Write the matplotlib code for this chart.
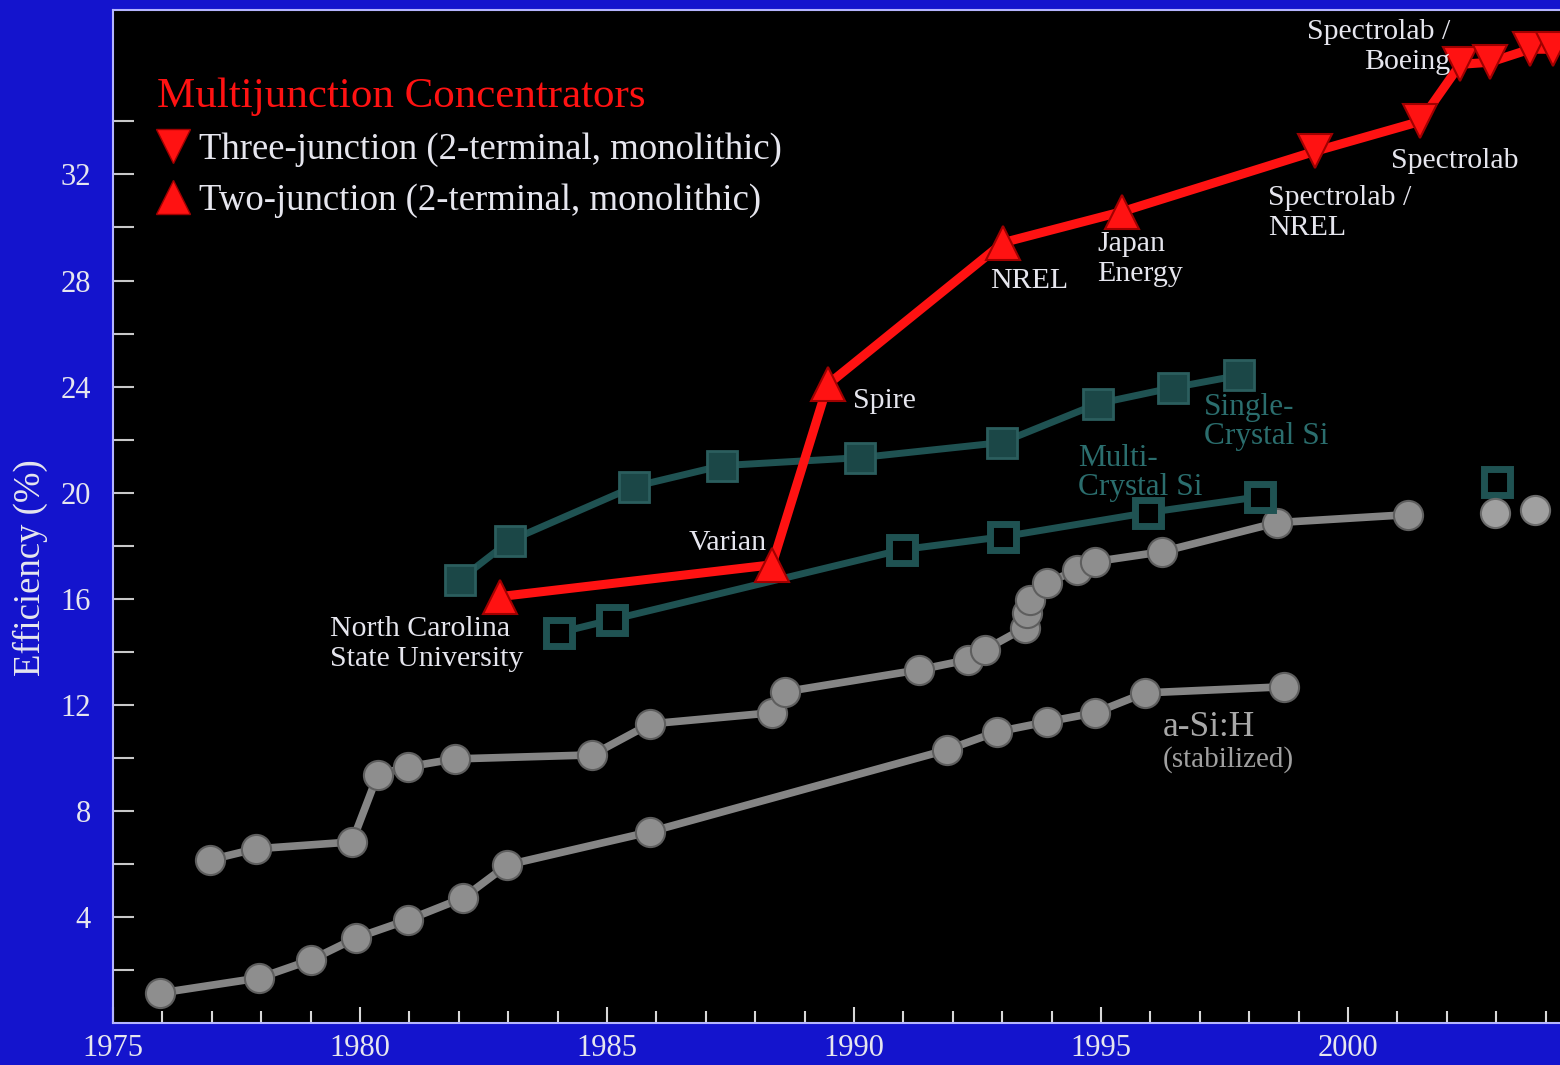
import matplotlib
matplotlib.use("Agg")
import matplotlib.pyplot as plt
from matplotlib.lines import Line2D
from matplotlib.ticker import MultipleLocator, FixedLocator

plt.rcParams['font.family'] = ['Liberation Serif', 'DejaVu Serif']

# Multijunction concentrators
two_junction_year = [1982.83, 1988.34, 1989.47, 1993.02, 1995.43]
two_junction_eff = [16.08, 17.28, 24.08, 29.43, 30.60]
three_junction_year = [1999.33, 2001.46, 2002.27, 2002.87, 2003.68, 2004.15]
three_junction_eff = [32.87, 34.00, 36.15, 36.23, 36.72, 36.72]

# Crystalline Si
single_si_year = [1982.02, 1983.04, 1985.55, 1987.33, 1990.12, 1992.99, 1994.94, 1996.46, 1997.79]
single_si_eff = [16.72, 18.19, 20.23, 21.02, 21.32, 21.89, 23.36, 23.96, 24.42]
multi_si_year = [1984.03, 1985.10, 1990.97, 1993.02, 1995.95, 1998.22]
multi_si_eff = [14.72, 15.21, 17.85, 18.34, 19.25, 19.85]
multi_si_extra_year = [2003.02]
multi_si_extra_eff = [20.42]

# Thin films (gray circles)
thin_year = [1976.96, 1977.89, 1979.84, 1980.36, 1980.97, 1981.92, 1984.70, 1985.87,
             1988.34, 1988.60, 1991.32, 1992.31, 1992.65, 1993.46, 1993.50, 1993.56,
             1993.91, 1994.51, 1994.88, 1996.23, 1998.56, 2001.21]
thin_eff = [6.15, 6.57, 6.83, 9.36, 9.66, 9.96, 10.11, 11.28,
            11.70, 12.49, 13.32, 13.70, 14.08, 14.91, 15.47, 15.96,
            16.60, 17.09, 17.40, 17.77, 18.87, 19.17]
thin_extra_year = [2002.98, 2003.79]
thin_extra_eff = [19.25, 19.36]
asi_year = [1975.95, 1977.96, 1979.01, 1979.92, 1980.97, 1982.09, 1982.98, 1985.87,
            1991.88, 1992.89, 1993.91, 1994.88, 1995.89, 1998.70]
asi_eff = [1.13, 1.70, 2.38, 3.21, 3.89, 4.72, 5.96, 7.21,
           10.30, 10.98, 11.36, 11.70, 12.45, 12.68]

x_ticks = [1975, 1980, 1985, 1990, 1995, 2000]
y_ticks = [4, 8, 12, 16, 20, 24, 28, 32]

blue_bg = '#1414cd'
red = '#ff1212'
teal = '#1f5252'
teal_text = '#2b6e6e'
gray = '#858585'
white = '#e6e6ee'

fig = plt.figure(figsize=(15.6, 10.65), dpi=100, facecolor=blue_bg)
ax = fig.add_axes([0.0724, 0.0394, 0.9276, 0.9512])
ax.set_facecolor('black')

# gray thin film lines
ax.plot(thin_year, thin_eff, color=gray, lw=5.5, marker='o', ms=21,
        mfc='#8e8e8e', mec='#5e5e5e', mew=1.5, zorder=2)
ax.plot(thin_extra_year, thin_extra_eff, linestyle='none', marker='o', ms=21,
        mfc='#a0a0a0', mec='#6a6a6a', mew=1.5, zorder=2)
ax.plot(asi_year, asi_eff, color=gray, lw=5.5, marker='o', ms=21,
        mfc='#8e8e8e', mec='#5e5e5e', mew=1.5, zorder=2)

# crystalline Si
ax.plot(single_si_year, single_si_eff, color=teal, lw=5, marker='s', ms=21,
        mfc='#1b4747', mec='#2b5e5e', mew=2, zorder=3)
ax.plot(multi_si_year, multi_si_eff, color=teal, lw=5, marker='s', ms=19,
        mfc='black', mec=teal, mew=5, zorder=3)
ax.plot(multi_si_extra_year, multi_si_extra_eff, linestyle='none', marker='s', ms=19,
        mfc='black', mec=teal, mew=5, zorder=1)

# multijunction
ax.plot(two_junction_year + three_junction_year[:1], two_junction_eff + three_junction_eff[:1],
        color=red, lw=6.5, zorder=4)
ax.plot(three_junction_year, three_junction_eff, color=red, lw=6.5, zorder=4)
ax.plot(two_junction_year, two_junction_eff, linestyle='none', marker='^', ms=24,
        mfc=red, mec='#a00000', mew=1.5, zorder=5)
ax.plot(three_junction_year, three_junction_eff, linestyle='none', marker='v', ms=24,
        mfc=red, mec='#a00000', mew=1.5, zorder=5)

# labels
lab = dict(color=white, fontsize=21.5, linespacing=1.2, zorder=6)
ax.text(1979.39, 15.35, "North Carolina\nState University", ha='left', va='top', **lab)
ax.text(1988.24, 18.11, "Varian", ha='right', va='center', **lab)
ax.text(1989.98, 23.47, "Spire", ha='left', va='center', **lab)
ax.text(1992.75, 28.0, "NREL", ha='left', va='center', **lab)
ax.text(1994.92, 29.85, "Japan\nEnergy", ha='left', va='top', **lab)
ax.text(1998.38, 31.6, "Spectrolab /\nNREL", ha='left', va='top', **lab)
ax.text(2000.87, 32.5, "Spectrolab", ha='left', va='center', **lab)
ax.text(2002.07, 37.85, "Spectrolab /\nBoeing", ha='right', va='top', multialignment='right', **lab)

ax.text(1997.08, 23.75, "Single-\nCrystal Si", ha='left', va='top', color=teal_text,
        fontsize=22.5, linespacing=1.0, zorder=6)
ax.text(1994.53, 21.85, "Multi-\nCrystal Si", ha='left', va='top', color=teal_text,
        fontsize=22.5, linespacing=1.0, zorder=6)
ax.text(1996.24, 11.13, "a-Si:H", ha='left', va='center', color='#a8a8a8', fontsize=25.5, zorder=6)
ax.text(1996.24, 9.92, "(stabilized)", ha='left', va='center', color='#a0a0a0', fontsize=21, zorder=6)

# legend
handles = [Line2D([], [], linestyle='none', marker='v', ms=25, mfc=red, mec='#a00000'),
           Line2D([], [], linestyle='none', marker='^', ms=25, mfc=red, mec='#a00000')]
leg = ax.legend(handles, ["Three-junction (2-terminal, monolithic)",
                          "Two-junction (2-terminal, monolithic)"],
                title="Multijunction Concentrators", loc='upper left',
                bbox_to_anchor=(0.02, 0.948), frameon=False, fontsize=26.5,
                title_fontsize=31, alignment='left', handlelength=0.9,
                handletextpad=0.25, labelspacing=0.45, borderaxespad=0)
leg.get_title().set_color(red)
for t in leg.get_texts():
    t.set_color(white)

# axes
ax.set_xlim(1975, 2004.29)
ax.set_ylim(0, 38.2)
ax.xaxis.set_major_locator(FixedLocator(x_ticks))
ax.xaxis.set_minor_locator(MultipleLocator(1))
ax.yaxis.set_major_locator(FixedLocator(y_ticks))
ax.yaxis.set_minor_locator(FixedLocator([v for v in range(2, 37, 2) if v % 4 != 0]))
ax.tick_params(axis='x', which='major', direction='in', length=11.5, width=1.5,
               color='#d8d8d8', labelsize=22, labelcolor=white, pad=8)
ax.tick_params(axis='x', which='minor', direction='in', length=8.5, width=1.5, color='#d8d8d8')
ax.tick_params(axis='y', which='both', direction='in', length=15, width=1.5,
               color='#c8c8c8', labelsize=22, labelcolor=white, pad=16)
ax.set_ylabel("Efficiency (%)", color=white, fontsize=26.5, labelpad=4)
ax.yaxis.set_label_coords(-0.045, 0.45)

for side in ['left', 'bottom', 'top']:
    ax.spines[side].set_color('#b4b4ff')
    ax.spines[side].set_linewidth(1.5)
ax.spines['right'].set_visible(False)

fig.savefig("out.png", dpi=100, facecolor=blue_bg)
